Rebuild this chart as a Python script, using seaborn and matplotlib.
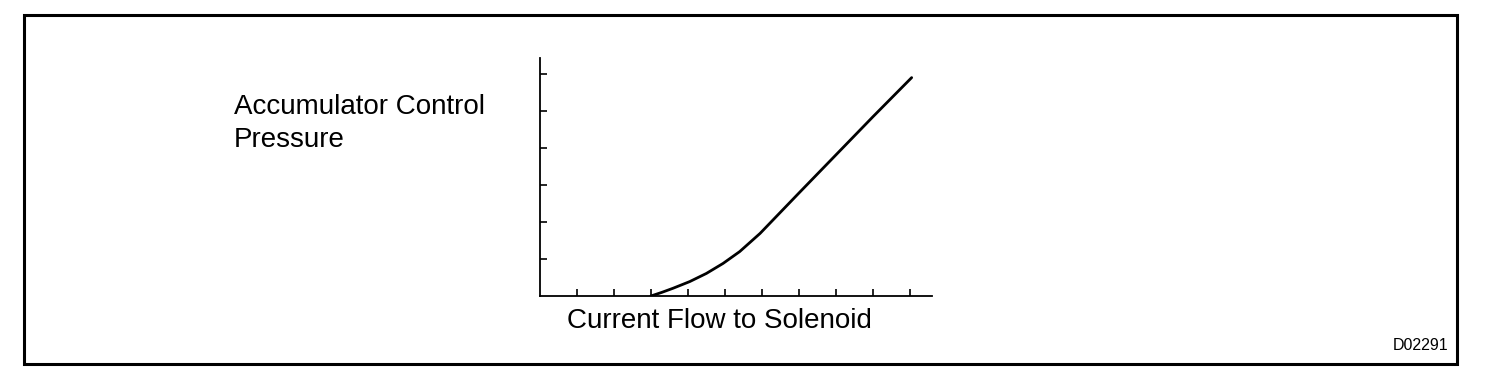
import matplotlib
matplotlib.use('Agg')
import matplotlib.pyplot as plt
import seaborn as sns
import pandas as pd
from matplotlib.patches import Rectangle

# curve (tick units)
current = [3.0, 3.3, 3.6, 4.05, 4.5, 4.95, 5.4, 5.95, 7.0, 8.0, 9.0, 10.05]
pressure = [0.0, 0.1, 0.21, 0.39, 0.61, 0.88, 1.2, 1.69, 2.78, 3.81, 4.84, 5.9]
x_ticks = list(range(1, 11))
y_ticks = list(range(1, 7))

df = pd.DataFrame({'current': current, 'pressure': pressure})

sns.set_style('white')
plt.rcParams['font.family'] = ['Liberation Sans', 'DejaVu Sans']
plt.rcParams['text.color'] = 'black'

W, H = 1504, 380
fig = plt.figure(figsize=(W / 100, H / 100), dpi=100)

# outer frame
fig.patches.append(Rectangle((24 / W, 1 - 364 / H), (1457 - 24) / W, (364 - 15) / H,
                             transform=fig.transFigure, fill=False,
                             edgecolor='black', linewidth=2.2))

ax = fig.add_axes([540 / W, (H - 296) / H, (932 - 540) / W, (296 - 58) / H])
sns.lineplot(data=df, x='current', y='pressure', ax=ax, color='black', linewidth=2)

ax.set_xlim(0, 10.6)
ax.set_ylim(0, 6.43)
ax.set_xticks(x_ticks)
ax.set_yticks(y_ticks)
ax.set_xticklabels([])
ax.set_yticklabels([])
ax.tick_params(direction='in', length=5, width=1.2, color='black',
               bottom=True, left=True)
ax.set_xlabel('')
ax.set_ylabel('')
for side in ['top', 'right']:
    ax.spines[side].set_visible(False)
for side in ['left', 'bottom']:
    ax.spines[side].set_color('black')
    ax.spines[side].set_linewidth(1.3)
ax.patch.set_alpha(0)

fig.text(234 / W, 1 - 147 / H, 'Accumulator Control\nPressure', fontsize=20,
         ha='left', va='baseline', linespacing=1.36, color='black')
fig.text(567 / W, 1 - 328 / H, 'Current Flow to Solenoid', fontsize=20,
         ha='left', va='baseline', color='black')
fig.text(1448 / W, 1 - 350 / H, 'D02291', fontsize=11.5, ha='right', va='baseline',
         color='black')

fig.savefig('out.png', dpi=100)
